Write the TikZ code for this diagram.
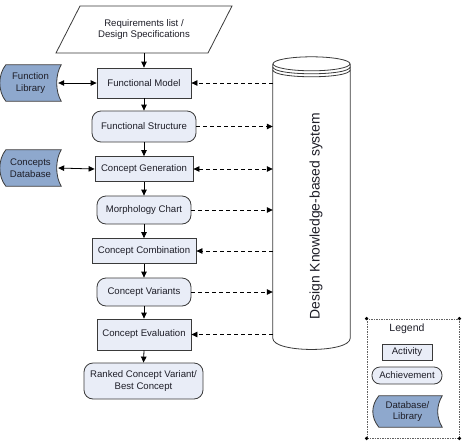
\documentclass[tikz,border=0pt]{standalone}
\usepackage{fontspec}
\setmainfont{Liberation Sans}
\usetikzlibrary{arrows.meta,calc,backgrounds}
\definecolor{actfill}{HTML}{E9EDF7}
\definecolor{dbfill}{HTML}{8EA8CD}
\definecolor{edge}{HTML}{3A3A3A}
\definecolor{txt}{HTML}{1E1E28}
\newcommand\dbshape[1]{%
  \draw[dbline] ([xshift=6pt]#1.north west) -- (#1.north east)
    .. controls +(-6pt,-10pt) and +(-6pt,10pt) .. (#1.south east)
    -- ([xshift=6pt]#1.south west)
    .. controls +(-8pt,10pt) and +(-8pt,-10pt) .. ([xshift=6pt]#1.north west) -- cycle;}
\begin{document}
\begin{tikzpicture}[x=1pt,y=-1pt,
  font=\fontsize{9.6}{11.5}\selectfont,
  base/.style={draw=edge, line width=0.8pt, fill=actfill, text=txt, align=center, inner sep=0pt},
  activity/.style={base, rectangle},
  achieve/.style={base, rounded corners=9pt},
  dbtext/.style={align=center, inner sep=0pt, text=txt},
  dbline/.style={draw=edge, line width=0.8pt, fill=dbfill},
  arr/.style={-{Triangle[length=6pt,width=5.5pt]}, line width=0.8pt, draw=black},
  both/.style={{Triangle[length=6pt,width=5.5pt]}-{Triangle[length=6pt,width=5.5pt]}},
  darr/.style={arr, dash pattern=on 4pt off 3pt},
  cyl/.style={draw=edge, line width=0.8pt}
]
\useasboundingbox (0,0) rectangle (466,445);

% requirements
\draw[edge, line width=0.8pt, fill=white] (80,6) -- (232,6) -- (208,53) -- (56,53) -- cycle;
\node[align=center, minimum width=152pt, minimum height=47pt, inner sep=0pt, text=txt] (req) at (144,29.5) {Requirements list /\\Design Specifications};

% main chain
\node[activity, minimum width=94pt, minimum height=30pt] (fm) at (144,83) {Functional Model};
\node[achieve, minimum width=104pt, minimum height=31pt] (fs) at (144,126.5) {Functional Structure};
\node[activity, minimum width=98pt, minimum height=25pt] (cg) at (144,169) {Concept Generation};
\node[achieve, minimum width=94pt, minimum height=28pt] (mc) at (144,210) {Morphology Chart};
\node[activity, minimum width=104pt, minimum height=25pt] (cc) at (144,251) {Concept Combination};
\node[achieve, minimum width=94pt, minimum height=28pt] (cv) at (144,292) {Concept Variants};
\node[activity, minimum width=94pt, minimum height=31pt] (ce) at (144,334.5) {Concept Evaluation};
\node[achieve, minimum width=119pt, minimum height=36pt] (rk) at (143.5,381) {Ranked Concept Variant/\\Best Concept};

% databases
\node[dbtext, minimum width=61pt, minimum height=36pt] (fl) at (30.5,83) {Function\\Library};
\node[dbtext, minimum width=61pt, minimum height=36pt] (cd) at (30.5,168) {Concepts\\Database};
\begin{scope}[on background layer]
\dbshape{fl}
\dbshape{cd}
\end{scope}

% cylinder
\node[minimum width=77pt, minimum height=274pt, inner sep=0pt] (kb) at (311.5,201) {};
\draw[cyl, fill=white] (kb.north west) -- (kb.south west)
  .. controls +(0,-15pt) and +(0,-15pt) .. (kb.south east) -- (kb.north east);
\draw[cyl, fill=white] (kb.north) ellipse [x radius=38.5pt, y radius=7pt];
\draw[cyl] ([yshift=-3pt]kb.north west) .. controls +(0,-9.3pt) and +(0,-9.3pt) .. ([yshift=-3pt]kb.north east);
\draw[cyl] ([yshift=-6pt]kb.north west) .. controls +(0,-9.3pt) and +(0,-9.3pt) .. ([yshift=-6pt]kb.north east);
\node[rotate=90, text=txt, font=\fontsize{13.9}{16}\selectfont] (kbt) at (316,216) {Design Knowledge-based system};

% solid connectors
\draw[arr] (req.south) -- (fm.north);
\draw[arr] (fm.south) -- (fs.north);
\draw[arr] (fs.south) -- (cg.north);
\draw[arr] (cg.south) -- (mc.north);
\draw[arr] (mc.south) -- (cc.north);
\draw[arr] (cc.south) -- (cv.north);
\draw[arr] (cv.south) -- (ce.north);
\draw[arr] (ce.south) -- (rk.north);
\draw[arr, both] ([xshift=-3pt]fl.east) -- (fm.west);
\draw[arr, both] ([xshift=-3pt]cd.east) -- (cg.west);

% dashed connectors
\draw[darr] (fm.east -| kb.west) -- (fm.east);
\draw[darr] (fs.east) -- (fs.east -| kb.west);
\draw[darr, both] (cg.east) -- (cg.east -| kb.west);
\draw[darr] (mc.east) -- (mc.east -| kb.west);
\draw[darr] (cc.east -| kb.west) -- (cc.east);
\draw[darr] (cv.east) -- (cv.east -| kb.west);
\draw[darr] (ce.east -| kb.west) -- (ce.east);

% legend
\node[draw=edge!80, line width=0.9pt, dash pattern=on 1.5pt off 1pt, minimum width=92pt, minimum height=119pt, inner sep=0pt] (leg) at (413,378.5) {};
\foreach \c in {north west, north east, south west, south east}
  \fill[black] (leg.\c) circle (1.8pt);
\node[text=txt, font=\fontsize{10.5}{12}\selectfont] (legt) at (407,329) {Legend};
\node[activity, minimum width=50pt, minimum height=16pt] (la) at (407,352) {Activity};
\node[achieve, rounded corners=8pt, minimum width=70pt, minimum height=17pt] (lach) at (407,375.5) {Achievement};
\node[dbtext, minimum width=69pt, minimum height=31pt] (ldb) at (407.5,411.5) {Database/\\Library};
\begin{scope}[on background layer]
\dbshape{ldb}
\end{scope}
\end{tikzpicture}
\end{document}
